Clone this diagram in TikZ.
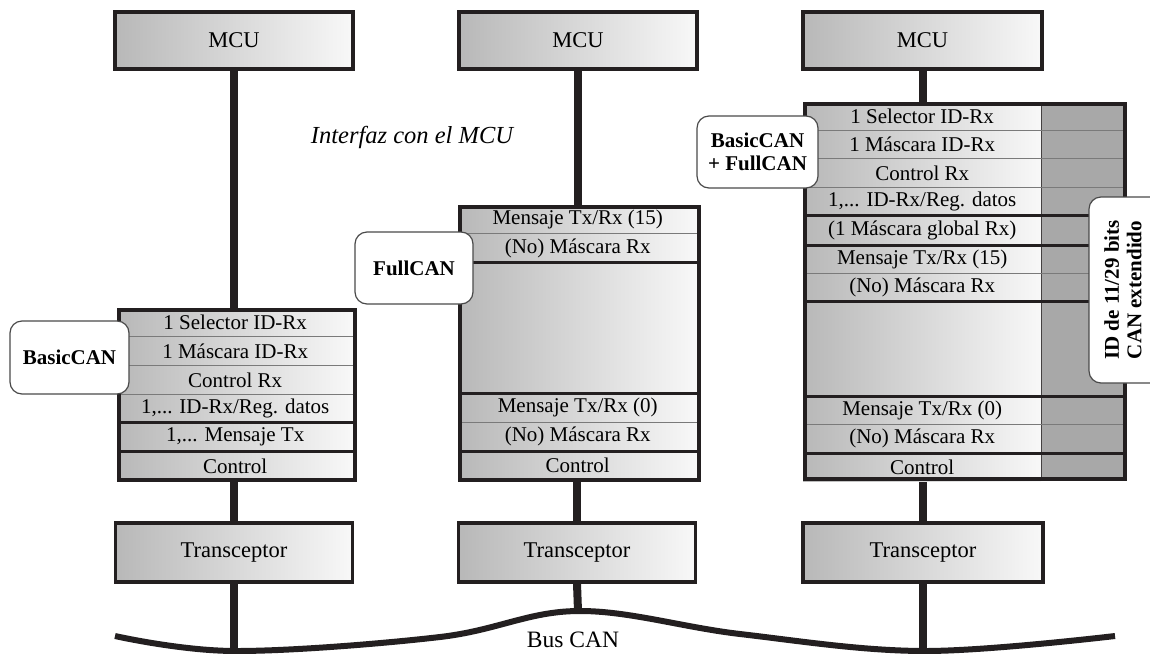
\documentclass[tikz,border=0pt]{standalone}
\usepackage{fontspec}
\setmainfont{Liberation Serif}
\usetikzlibrary{backgrounds}
\definecolor{ink}{HTML}{231F20}
\definecolor{shadeL}{HTML}{B8B8B8}
\definecolor{shadeR}{HTML}{F8F8F8}
\definecolor{idgray}{HTML}{A8A8A8}
\definecolor{sepgray}{HTML}{7A7A7A}
\definecolor{calloutline}{HTML}{4A4A4A}

\begin{document}
\begin{tikzpicture}[x=1pt,y=-1pt,
  unitbox/.style={draw=ink, line width=3.5pt, left color=shadeL, right color=shadeR,
    minimum height=57pt, inner sep=0pt, font=\fontsize{22.5}{27}\selectfont},
  rowcell/.style={left color=shadeL, right color=shadeR, inner sep=0pt, anchor=north west,
    font=\fontsize{21}{24}\selectfont},
  stackframe/.style={draw=ink, line width=3.5pt, inner sep=0pt, anchor=north west},
  thinsep/.style={draw=sepgray, line width=0.9pt},
  thicksep/.style={draw=ink, line width=3pt},
  wire/.style={draw=ink, line width=8pt},
  buswire/.style={draw=ink, line width=6pt},
  callout/.style={draw=calloutline, line width=1.2pt, fill=white, rounded corners=12pt,
    inner sep=0pt, align=center, font=\fontsize{21}{22.5}\selectfont\bfseries},
]
\useasboundingbox (0,0) rectangle (1150,653);
\clip (0,0) rectangle (1150,653);

% ---------- MCU and transceiver units ----------
\node[unitbox, minimum width=238pt] (mcuA) at (234,40.5) {MCU};
\node[unitbox, minimum width=238pt] (mcuB) at (578,40.5) {MCU};
\node[unitbox, minimum width=239pt] (mcuC) at (922.5,40.5) {MCU};
\node[unitbox, minimum width=237pt, minimum height=59pt] (trA) at (234,552.5) {Transceptor};
\node[unitbox, minimum width=237pt, minimum height=59pt] (trB) at (577,552.5) {Transceptor};
\node[unitbox, minimum width=240pt, minimum height=59pt] (trC) at (923,552.5) {Transceptor};

% ---------- BasicCAN stack ----------
\node[rowcell, minimum width=236pt, minimum height=28.5pt] (a1) at (117,308) {1 Selector ID-Rx};
\node[rowcell, minimum width=236pt, minimum height=28.5pt] (a2) at (a1.south west) {1 Máscara ID-Rx};
\node[rowcell, minimum width=236pt, minimum height=28pt] (a3) at (a2.south west) {Control Rx};
\node[rowcell, minimum width=236pt, minimum height=28pt] (a4) at (a3.south west) {1,... ID-Rx/Reg. datos};
\node[rowcell, minimum width=236pt, minimum height=28.5pt] (a5) at (a4.south west) {1,... Mensaje Tx};
\node[rowcell, minimum width=236pt, minimum height=28.5pt] (a6) at (a5.south west) {Control};
\draw[thinsep] (a1.south west) -- (a1.south east);
\draw[thinsep] (a2.south west) -- (a2.south east);
\draw[thinsep] (a3.south west) -- (a3.south east);
\draw[thicksep] (a4.south west) -- (a4.south east);
\draw[thicksep] (a5.south west) -- (a5.south east);
\node[stackframe, minimum width=236pt, minimum height=170pt] (stackA) at (117,308) {};

% ---------- FullCAN stack ----------
\node[rowcell, minimum width=239pt, minimum height=28.5pt] (b1) at (458,205) {Mensaje Tx/Rx (15)};
\node[rowcell, minimum width=239pt, minimum height=28.5pt] (b2) at (b1.south west) {(No) Máscara Rx};
\node[rowcell, minimum width=239pt, minimum height=130pt] (b3) at (b2.south west) {};
\node[rowcell, minimum width=239pt, minimum height=28.5pt] (b4) at (b3.south west) {Mensaje Tx/Rx (0)};
\node[rowcell, minimum width=239pt, minimum height=28.5pt] (b5) at (b4.south west) {(No) Máscara Rx};
\node[rowcell, minimum width=239pt, minimum height=29pt] (b6) at (b5.south west) {Control};
\draw[thinsep] (b1.south west) -- (b1.south east);
\draw[thicksep] (b2.south west) -- (b2.south east);
\draw[thicksep] (b3.south west) -- (b3.south east);
\draw[thinsep] (b4.south west) -- (b4.south east);
\draw[thicksep] (b5.south west) -- (b5.south east);
\node[stackframe, minimum width=239pt, minimum height=273pt] (stackB) at (458,205) {};

% ---------- BasicCAN + FullCAN stack ----------
\node[rowcell, minimum width=238pt, minimum height=28pt] (c1) at (803,102) {1 Selector ID-Rx};
\node[rowcell, minimum width=238pt, minimum height=28pt] (c2) at (c1.south west) {1 Máscara ID-Rx};
\node[rowcell, minimum width=238pt, minimum height=28pt] (c3) at (c2.south west) {Control Rx};
\node[rowcell, minimum width=238pt, minimum height=28pt] (c4) at (c3.south west) {1,... ID-Rx/Reg. datos};
\node[rowcell, minimum width=238pt, minimum height=29pt] (c5) at (c4.south west) {(1 Máscara global Rx)};
\node[rowcell, minimum width=238pt, minimum height=28pt] (c6) at (c5.south west) {Mensaje Tx/Rx (15)};
\node[rowcell, minimum width=238pt, minimum height=28pt] (c7) at (c6.south west) {(No) Máscara Rx};
\node[rowcell, minimum width=238pt, minimum height=94pt] (c8) at (c7.south west) {};
\node[rowcell, minimum width=238pt, minimum height=28pt] (c9) at (c8.south west) {Mensaje Tx/Rx (0)};
\node[rowcell, minimum width=238pt, minimum height=28pt] (c10) at (c9.south west) {(No) Máscara Rx};
\node[rowcell, minimum width=238pt, minimum height=28pt] (c11) at (c10.south west) {Control};
\node[fill=idgray, draw=ink!85, line width=1pt, inner sep=0pt, anchor=north west,
  minimum width=82pt, minimum height=375pt] (idcol) at (1041,102) {};
\draw[thinsep] (c1.south west) -- (c1.south west -| idcol.east);
\draw[thinsep] (c2.south west) -- (c2.south west -| idcol.east);
\draw[thinsep] (c3.south west) -- (c3.south west -| idcol.east);
\draw[thicksep] (c4.south west) -- (c4.south west -| idcol.east);
\draw[thicksep] (c5.south west) -- (c5.south west -| idcol.east);
\draw[thinsep] (c6.south west) -- (c6.south west -| idcol.east);
\draw[thicksep] (c7.south west) -- (c7.south west -| idcol.east);
\draw[thicksep] (c8.south west) -- (c8.south west -| idcol.east);
\draw[thinsep] (c9.south west) -- (c9.south west -| idcol.east);
\draw[thicksep] (c10.south west) -- (c10.south west -| idcol.east);
\node[stackframe, minimum width=320pt, minimum height=375pt] (stackC) at (803,102) {};

% ---------- texts ----------
\node[font=\fontsize{24.5}{28}\selectfont\itshape] (iface) at (412,137) {Interfaz con el MCU};
\node[font=\fontsize{23.5}{27}\selectfont] (buslabel) at (573,640) {Bus CAN};

% ---------- bus and vertical links ----------
\coordinate (busPeak) at (578,611);
\coordinate (endA) at (234,660);
\coordinate (endC) at (923,660);
\begin{scope}[on background layer]
  \draw[wire] (mcuA.south) -- (mcuA.south |- stackA.north);
  \draw[wire] (mcuB.south) -- (mcuB.south |- stackB.north);
  \draw[wire] (mcuC.south) -- (mcuC.south |- stackC.north);
  \draw[wire] (trA.north |- stackA.south) -- (trA.north);
  \draw[wire] (trB.north |- stackB.south) -- (trB.north);
  \draw[wire] (trC.north |- stackC.south) -- (trC.north);
  \draw[wire] (trA.south) -- (endA);
  \draw[wire] (trB.south) -- (busPeak);
  \draw[wire] (trC.south) -- (endC);
\end{scope}
\draw[buswire] plot[smooth, tension=0.6] coordinates
  {(115,636) (235,651) (440,637) (busPeak) (740,634) (923,651) (1115,636)};

% ---------- callouts ----------
\node[callout, minimum width=119pt, minimum height=73pt] (cA) at (69.5,357.5) {BasicCAN};
\node[callout, minimum width=118pt, minimum height=72pt] (cB) at (414,268) {FullCAN};
\node[callout, minimum width=121pt, minimum height=72pt] (cC) at (757.5,152) {BasicCAN\\+ FullCAN};
\node[callout, rotate=90, minimum width=186pt, minimum height=82pt, text depth=0pt] (cD) at (1130,290) {};
\node[rotate=90, align=center, inner sep=0pt, font=\fontsize{21}{22.5}\selectfont\bfseries]
  (cDtext) at (1123,290) {ID de 11/29 bits\\CAN extendido};
\end{tikzpicture}
\end{document}
